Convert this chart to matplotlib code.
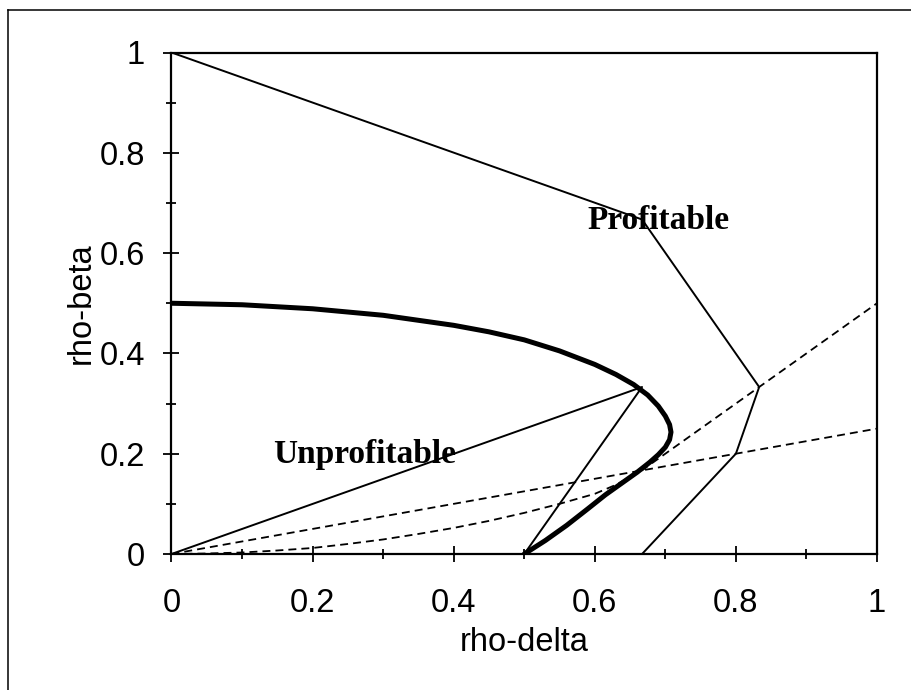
import matplotlib
matplotlib.use('Agg')
import matplotlib.pyplot as plt
from matplotlib.lines import Line2D
from matplotlib.ticker import FixedLocator, FixedFormatter

plt.rcParams['font.family'] = ['Liberation Sans', 'DejaVu Sans']

# break-even curve (thick)
curve_x = [0, 0.1, 0.2, 0.3, 0.4, 0.45, 0.5, 0.55, 0.6, 0.63, 0.655, 0.675, 0.69, 0.7,
           0.706, 0.708, 0.706, 0.7, 0.69, 0.678, 0.66, 0.64, 0.615, 0.59, 0.56, 0.53, 0.5]
curve_y = [0.5, 0.497, 0.489, 0.476, 0.456, 0.443, 0.427, 0.405, 0.378, 0.358, 0.338, 0.317,
           0.295, 0.275, 0.258, 0.243, 0.228, 0.213, 0.198, 0.183, 0.163, 0.143, 0.118,
           0.090, 0.057, 0.027, 0]

# outer boundary
outer_x = [0, 0.667, 0.833, 0.8, 0.667]
outer_y = [1, 0.667, 0.333, 0.2, 0]

# inner triangle
inner_x = [0, 0.667, 0.5]
inner_y = [0, 0.333, 0]

# dashed lines
dash_a_x = [0, 1]
dash_a_y = [0, 0.25]
dash_b_x = [0, 0.05, 0.1, 0.15, 0.2, 0.25, 0.3, 0.35, 0.4, 0.45, 0.5, 0.55, 0.6, 0.63, 0.667, 0.833, 1]
dash_b_y = [0, 0.001, 0.003, 0.007, 0.012, 0.02, 0.029, 0.04, 0.052, 0.066, 0.082, 0.1, 0.12,
            0.138, 0.167, 0.333, 0.5]

tick_vals = [0, 0.2, 0.4, 0.6, 0.8, 1]
tick_labels = ['0', '0.2', '0.4', '0.6', '0.8', '1']
minor_vals = [0.1, 0.3, 0.5, 0.7, 0.9]


def main():
    fig = plt.figure(figsize=(9.12, 6.9), dpi=100)
    ax = fig.add_axes([171.5 / 912, 1 - 554 / 690, (877 - 171.5) / 912, (554 - 52.5) / 690])

    dash = (0, (4.4, 2.8))
    ax.plot(dash_a_x, dash_a_y, color='black', lw=1.3, ls=dash)
    ax.plot(dash_b_x, dash_b_y, color='black', lw=1.3, ls=dash)
    ax.plot(outer_x, outer_y, color='black', lw=1.4)
    ax.plot(inner_x, inner_y, color='black', lw=1.4)
    ax.plot(curve_x, curve_y, color='black', lw=3.6, solid_capstyle='round',
            solid_joinstyle='round')

    ax.set_xlim(0, 1)
    ax.set_ylim(0, 1)

    for axis in (ax.xaxis, ax.yaxis):
        axis.set_major_locator(FixedLocator(tick_vals))
        axis.set_major_formatter(FixedFormatter(tick_labels))
        axis.set_minor_locator(FixedLocator(minor_vals))

    ax.tick_params(which='major', direction='inout', length=11, width=1.3, labelsize=23.5)
    ax.tick_params(which='minor', direction='inout', length=7, width=1.3)
    ax.tick_params(axis='x', which='major', pad=19)
    ax.tick_params(axis='y', which='major', pad=13.5)
    for s in ax.spines.values():
        s.set_linewidth(1.6)

    ax.set_xlabel('rho-delta', fontsize=23.5, labelpad=6)
    ax.set_ylabel('rho-beta', fontsize=23.5, labelpad=2)

    ax.text(0.69, 0.6475, 'Profitable', family='Liberation Serif', weight='bold',
            fontsize=24, ha='center', va='baseline')
    ax.text(0.274, 0.182, 'Unprofitable', family='Liberation Serif', weight='bold',
            fontsize=24, ha='center', va='baseline')

    # page frame
    fig.add_artist(Line2D([8 / 912, 8 / 912], [0, 1 - 10 / 690], transform=fig.transFigure,
                          color='black', lw=1.1))
    fig.add_artist(Line2D([8 / 912, 1], [1 - 10 / 690, 1 - 10 / 690], transform=fig.transFigure,
                          color='black', lw=1.1))

    fig.savefig('out.png', dpi=100)


if __name__ == '__main__':
    main()
